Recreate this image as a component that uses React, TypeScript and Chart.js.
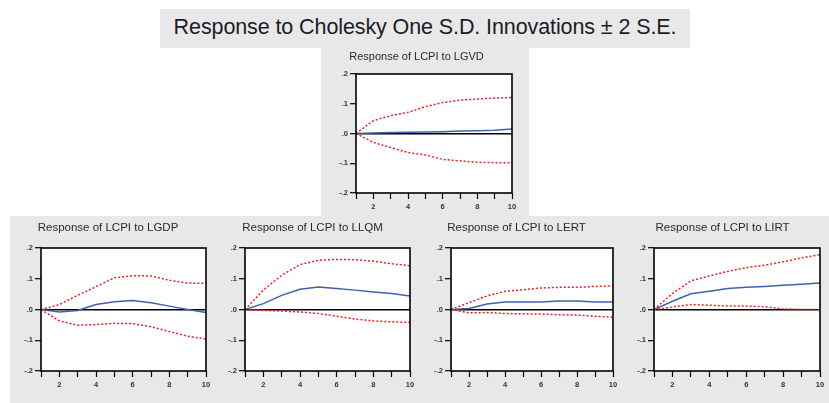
import React, { useEffect, useRef } from "react";
import { Chart, registerables } from "chart.js";

Chart.register(...registerables);

// ---------- data ----------
const periods = [1, 2, 3, 4, 5, 6, 7, 8, 9, 10];
const yTicks = [-0.2, -0.1, 0, 0.1, 0.2];
const mainTitle = "Response to Cholesky One S.D. Innovations \u00b1 2 S.E.";

const titleLGVD = "Response of LCPI to LGVD";
const lgvdResp = [0, 0.002, 0.003, 0.004, 0.005, 0.006, 0.008, 0.009, 0.011, 0.015];
const lgvdUpper = [0, 0.043, 0.06, 0.071, 0.09, 0.104, 0.112, 0.116, 0.119, 0.121];
const lgvdLower = [0, -0.03, -0.047, -0.064, -0.072, -0.087, -0.092, -0.097, -0.098, -0.098];

const titleLGDP = "Response of LCPI to LGDP";
const lgdpResp = [0, -0.008, -0.003, 0.016, 0.025, 0.029, 0.022, 0.011, 0, -0.01];
const lgdpUpper = [0, 0.016, 0.046, 0.074, 0.103, 0.11, 0.109, 0.095, 0.086, 0.085];
const lgdpLower = [0, -0.037, -0.051, -0.049, -0.045, -0.046, -0.056, -0.072, -0.087, -0.096];

const titleLLQM = "Response of LCPI to LLQM";
const llqmResp = [0, 0.019, 0.046, 0.066, 0.073, 0.068, 0.063, 0.057, 0.052, 0.044];
const llqmUpper = [0, 0.063, 0.111, 0.146, 0.16, 0.163, 0.162, 0.157, 0.149, 0.142];
const llqmLower = [0, -0.003, -0.005, -0.008, -0.013, -0.022, -0.031, -0.037, -0.04, -0.042];

const titleLERT = "Response of LCPI to LERT";
const lertResp = [0, 0.003, 0.018, 0.024, 0.024, 0.024, 0.028, 0.028, 0.024, 0.024];
const lertUpper = [0, 0.022, 0.044, 0.059, 0.064, 0.07, 0.072, 0.072, 0.075, 0.077];
const lertLower = [0, -0.011, -0.01, -0.013, -0.014, -0.015, -0.017, -0.018, -0.022, -0.025];

const titleLIRT = "Response of LCPI to LIRT";
const lirtResp = [0, 0.027, 0.051, 0.059, 0.068, 0.072, 0.075, 0.079, 0.082, 0.086];
const lirtUpper = [0, 0.052, 0.093, 0.109, 0.124, 0.136, 0.144, 0.155, 0.168, 0.178];
const lirtLower = [0, 0.008, 0.016, 0.014, 0.011, 0.011, 0.009, 0.002, 0, 0];

// ---------- styles ----------
const GRAY = "#e8e8e8";
const RED = "#f01e1e";
const BLUE = "#4060b0";
const FONT = "'Liberation Sans', Arial, sans-serif";

type Box = { left: number; top: number; width: number; height: number };
type Frame = { left: number; top: number; right: number; bottom: number };

const framePlugin = {
  id: "frameBox",
  beforeDraw(chart: any) {
    const { ctx, chartArea: a } = chart;
    ctx.save();
    ctx.fillStyle = "#ffffff";
    ctx.fillRect(a.left, a.top, a.right - a.left, a.bottom - a.top);
    ctx.restore();
  },
  afterDraw(chart: any) {
    const { ctx, chartArea: a } = chart;
    ctx.save();
    ctx.strokeStyle = "#000";
    ctx.lineWidth = 1.6;
    ctx.strokeRect(a.left, a.top, a.right - a.left, a.bottom - a.top);
    ctx.restore();
  },
};

function Panel(props: {
  title: string;
  resp: number[];
  upper: number[];
  lower: number[];
  box: Box;
  frame: Frame;
  titleTop: number;
  titleSize: number;
}) {
  const ref = useRef<HTMLCanvasElement | null>(null);
  const { title, resp, upper, lower, box, frame, titleTop, titleSize } = props;

  useEffect(() => {
    if (!ref.current) return;
    const yW = frame.left - box.left;
    const xH = box.top + box.height - frame.bottom;
    const padR = box.left + box.width - frame.right;
    const titleH = frame.top - box.top;
    const tb = titleH - titleTop - titleSize;
    const mk = (vals: number[]) => periods.map((p, i) => ({ x: p, y: vals[i] }));
    const chart = new Chart(ref.current, {
      type: "line",
      data: {
        datasets: [
          {
            data: mk(upper),
            borderColor: RED,
            borderWidth: 1.5,
            borderDash: [2, 2],
            pointRadius: 0,
            tension: 0,
          },
          {
            data: mk(lower),
            borderColor: RED,
            borderWidth: 1.5,
            borderDash: [2, 2],
            pointRadius: 0,
            tension: 0,
          },
          {
            data: mk(resp),
            borderColor: BLUE,
            borderWidth: 1.5,
            pointRadius: 0,
            tension: 0,
          },
        ],
      },
      options: {
        animation: false,
        responsive: false,
        maintainAspectRatio: false,
        layout: { padding: { left: 0, right: padR, top: 0, bottom: 0 } },
        plugins: {
          legend: { display: false },
          tooltip: { enabled: false },
          title: {
            display: true,
            text: title,
            color: "#2a2a2a",
            font: { family: FONT, size: titleSize, weight: "normal", lineHeight: 1 },
            padding: { top: titleTop, bottom: tb },
          },
        },
        scales: {
          x: {
            type: "linear",
            min: 1,
            max: 10,
            afterFit: (s: any) => {
              s.height = xH;
            },
            ticks: {
              stepSize: 1,
              autoSkip: false,
              maxRotation: 0,
              padding: 3,
              color: "#334",
              font: { family: FONT, size: 7.5, weight: "bold" },
              callback: (v: any) => (Number(v) % 2 === 0 ? String(v) : ""),
            },
            grid: {
              drawOnChartArea: false,
              drawTicks: true,
              tickLength: 6,
              tickColor: "#000",
              tickWidth: 1.2,
              color: "transparent",
            },
            border: { display: false },
          },
          y: {
            min: -0.2,
            max: 0.2,
            afterFit: (s: any) => {
              s.width = yW;
            },
            afterBuildTicks: (s: any) => {
              s.ticks = yTicks.map((v) => ({ value: v }));
            },
            ticks: {
              padding: 2,
              color: "#334",
              font: { family: FONT, size: 7.5, weight: "bold" },
              callback: (v: any) => {
                const s = (Math.round(Number(v) * 10) / 10).toFixed(1);
                return s.replace("0.", ".");
              },
            },
            grid: {
              drawOnChartArea: true,
              drawTicks: true,
              tickLength: 6,
              tickColor: "#000",
              tickWidth: 1.2,
              lineWidth: 1.4,
              color: (c: any) => (c.tick && Math.abs(c.tick.value) < 1e-9 ? "#000" : "transparent"),
            },
            border: { display: false },
          },
        },
      },
      plugins: [framePlugin],
    } as any);
    return () => chart.destroy();
  }, [title, resp, upper, lower, box, frame, titleTop, titleSize]);

  return (
    <canvas
      ref={ref}
      width={box.width}
      height={box.height}
      style={{
        position: "absolute",
        left: box.left,
        top: box.top,
        width: box.width,
        height: box.height,
      }}
    />
  );
}

const topBox: Box = { left: 321, top: 48, width: 208, height: 168 };
const topFrame: Frame = { left: 356, top: 74, right: 512, bottom: 193 };

const bottomBoxes: Box[] = [
  { left: 10, top: 216, width: 205, height: 187 },
  { left: 215, top: 216, width: 205, height: 187 },
  { left: 420, top: 216, width: 205, height: 187 },
  { left: 625, top: 216, width: 204, height: 187 },
];
const bottomFrames: Frame[] = [
  { left: 41, top: 248, right: 206, bottom: 371 },
  { left: 245, top: 248, right: 410, bottom: 371 },
  { left: 451, top: 248, right: 613, bottom: 371 },
  { left: 654, top: 248, right: 820, bottom: 371 },
];

export default function App() {
  const bottom = [
    { t: titleLGDP, r: lgdpResp, u: lgdpUpper, l: lgdpLower },
    { t: titleLLQM, r: llqmResp, u: llqmUpper, l: llqmLower },
    { t: titleLERT, r: lertResp, u: lertUpper, l: lertLower },
    { t: titleLIRT, r: lirtResp, u: lirtUpper, l: lirtLower },
  ];
  return (
    <div
      style={{
        position: "absolute",
        left: 0,
        top: 0,
        width: 829,
        height: 403,
        background: "#fff",
        overflow: "hidden",
      }}
    >
      <div
        style={{
          position: "absolute",
          left: 160,
          top: 9,
          width: 530,
          height: 39,
          background: GRAY,
          color: "#1c1c28",
          fontFamily: FONT,
          fontSize: 21.5,
          letterSpacing: -0.1,
          lineHeight: "37px",
          textAlign: "center",
          whiteSpace: "nowrap",
        }}
      >
        {mainTitle}
      </div>
      <div style={{ position: "absolute", left: 321, top: 48, width: 208, height: 168, background: GRAY }} />
      <div style={{ position: "absolute", left: 10, top: 216, width: 819, height: 187, background: GRAY }} />
      <Panel
        title={titleLGVD}
        resp={lgvdResp}
        upper={lgvdUpper}
        lower={lgvdLower}
        box={topBox}
        frame={topFrame}
        titleTop={3.5}
        titleSize={11}
      />
      {bottom.map((p, i) => (
        <Panel
          key={p.t}
          title={p.t}
          resp={p.r}
          upper={p.u}
          lower={p.l}
          box={bottomBoxes[i]}
          frame={bottomFrames[i]}
          titleTop={6.5}
          titleSize={11.5}
        />
      ))}
    </div>
  );
}
